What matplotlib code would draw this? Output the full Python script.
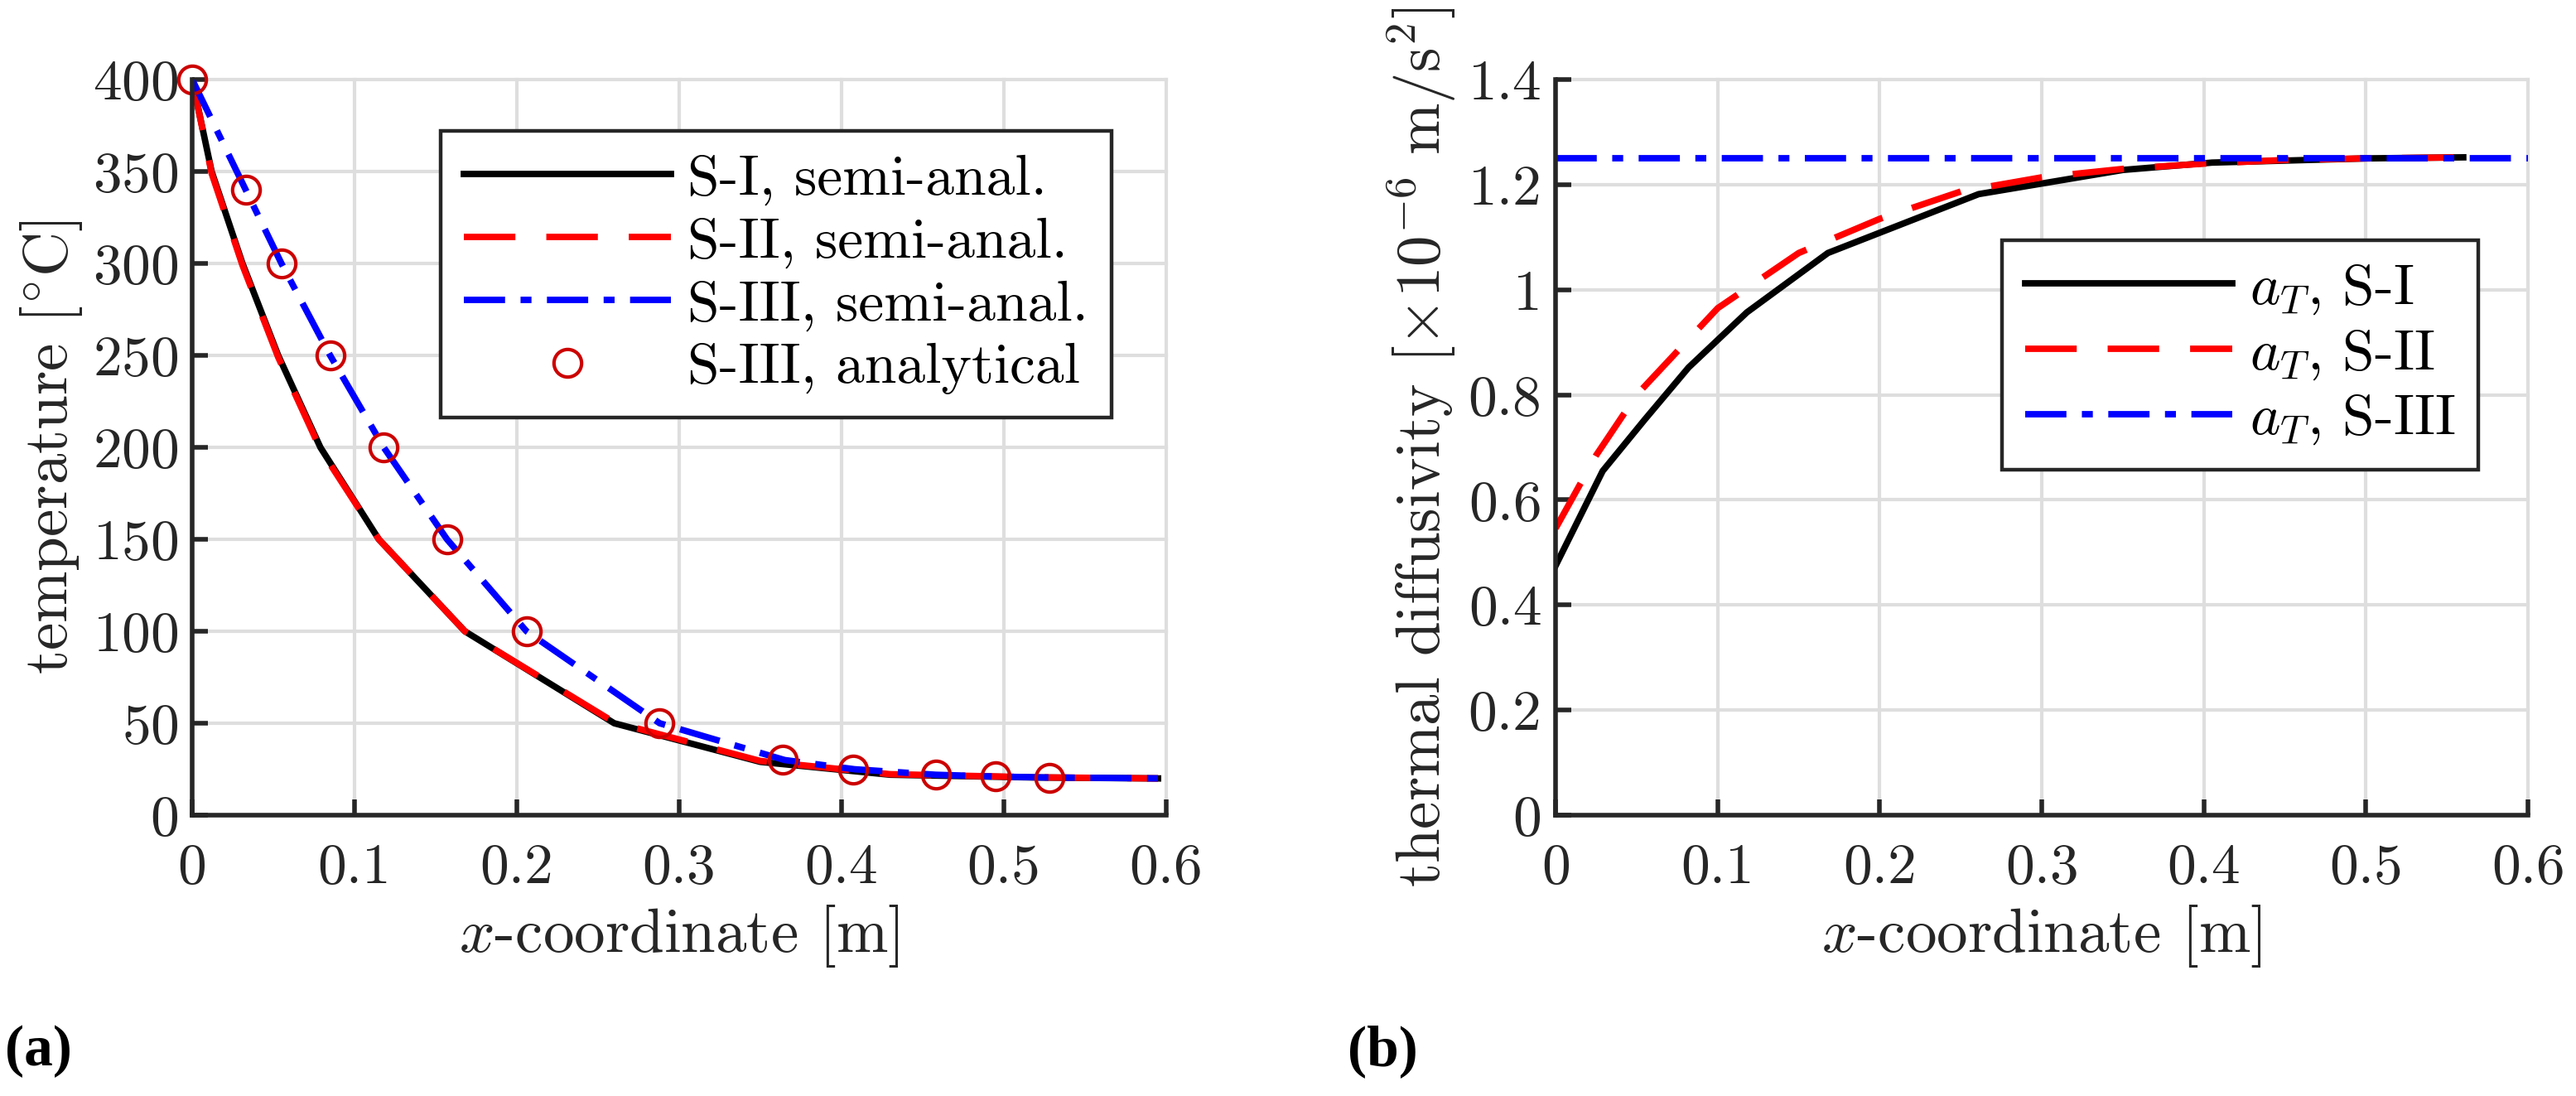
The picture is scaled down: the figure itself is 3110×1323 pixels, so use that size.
import numpy as np
import matplotlib.pyplot as plt

plt.rcParams['font.family'] = 'serif'
plt.rcParams['font.serif'] = ['cmr10']
plt.rcParams['mathtext.fontset'] = 'cm'
plt.rcParams['axes.formatter.use_mathtext'] = True

# (a) temperature
x_s1 = [0, 0.012, 0.031, 0.053, 0.079, 0.115, 0.168, 0.26, 0.35, 0.43, 0.52, 0.595]
T_s1 = [400, 350, 300, 250, 200, 150, 100, 50, 29, 22, 20.5, 20]
x_s2 = [0, 0.012, 0.031, 0.053, 0.079, 0.115, 0.168, 0.26, 0.35, 0.43, 0.52, 0.595]
T_s2 = [400, 349, 299, 249, 199, 150, 100, 50.5, 29.5, 22.3, 20.6, 20]
x_s3 = [0, 0.033, 0.055, 0.085, 0.118, 0.157, 0.206, 0.288, 0.365, 0.408, 0.458, 0.495, 0.528, 0.6]
T_s3 = [400, 340, 300, 250, 200, 150, 100, 50, 30, 25, 22, 21, 20.5, 20]
x_an = [0, 0.033, 0.055, 0.085, 0.118, 0.157, 0.206, 0.288, 0.364, 0.407, 0.458, 0.495, 0.528]
T_an = [400, 340, 300, 250, 200, 150, 100, 50, 30, 25, 22, 21, 20.3]

# (b) thermal diffusivity
x_a1 = [0, 0.029, 0.055, 0.082, 0.118, 0.168, 0.261, 0.35, 0.405, 0.5, 0.56]
a_s1 = [0.475, 0.655, 0.753, 0.852, 0.957, 1.07, 1.182, 1.228, 1.242, 1.25, 1.252]
x_a2 = [0, 0.025, 0.05, 0.1, 0.15, 0.2, 0.25, 0.3, 0.35, 0.4, 0.45, 0.5, 0.56]
a_s2 = [0.546, 0.685, 0.80, 0.965, 1.07, 1.135, 1.187, 1.214, 1.23, 1.24, 1.247, 1.25, 1.252]
x_a3 = [0, 0.6]
a_s3 = [1.25, 1.25]

xticks = [0, 0.1, 0.2, 0.3, 0.4, 0.5, 0.6]
xtick_labels = ['0', '0.1', '0.2', '0.3', '0.4', '0.5', '0.6']
T_ticks = [0, 50, 100, 150, 200, 250, 300, 350, 400]
a_ticks = [0, 0.2, 0.4, 0.6, 0.8, 1.0, 1.2, 1.4]
a_tick_labels = ['0', '0.2', '0.4', '0.6', '0.8', '1', '1.2', '1.4']

dark = '#262626'
lw = 2.8
dash = (8, 4.8)
dashdot = (6.4, 2.4, 1.7, 2.4)

fig = plt.figure(figsize=(15.55, 6.615), dpi=200)
ax1 = fig.add_axes([0.0746, 0.2562, 0.3781, 0.6712])
ax2 = fig.add_axes([0.6039, 0.2562, 0.3775, 0.6712])


def style(ax):
    for s in ['top', 'right']:
        ax.spines[s].set_visible(False)
    for s in ['left', 'bottom']:
        ax.spines[s].set_color(dark)
        ax.spines[s].set_linewidth(2.0)
    ax.grid(True, color='#dedede', linewidth=1.5)
    ax.set_axisbelow(True)
    for gl in ax.get_xgridlines() + ax.get_ygridlines():
        gl.set_clip_on(False)
    ax.tick_params(direction='in', length=7, width=2, colors=dark,
                   labelsize=25, top=False, right=False)
    ax.tick_params(axis='x', pad=12)
    ax.tick_params(axis='y', pad=6)


def legend(ax, anchor):
    leg = ax.legend(loc='upper right', bbox_to_anchor=anchor, fontsize=25,
                    handlelength=3.6, handletextpad=0.3, labelspacing=0.2,
                    borderpad=0.4, borderaxespad=0, fancybox=False,
                    framealpha=1, edgecolor=dark)
    leg.get_frame().set_linewidth(1.6)
    return leg


ax1.plot(x_s1, T_s1, color='black', lw=lw, label='S-I, semi-anal.')
ax1.plot(x_s2, T_s2, color='red', lw=lw, dashes=dash, label='S-II, semi-anal.')
ax1.plot(x_s3, T_s3, color='blue', lw=lw, dashes=dashdot, label='S-III, semi-anal.')
ax1.plot(x_an, T_an, 'o', color='#cc0000', mfc='none', ms=12, mew=1.5,
         clip_on=False, label='S-III, analytical')
ax1.set_xlim(0, 0.6)
ax1.set_ylim(0, 400)
ax1.set_xticks(xticks)
ax1.set_xticklabels(xtick_labels)
ax1.set_yticks(T_ticks)
style(ax1)
ax1.set_xlabel(r'$x$-coordinate [m]', fontsize=27, color=dark, labelpad=4)
ax1.set_ylabel(r'temperature [$^{\circ}$C]', fontsize=27, color=dark, labelpad=3.5)
legend(ax1, (0.944, 0.93))

ax2.plot(x_a1, a_s1, color='black', lw=lw, label=r'$a_T$, S-I')
ax2.plot(x_a2, a_s2, color='red', lw=lw, dashes=dash, label=r'$a_T$, S-II')
ax2.plot(x_a3, a_s3, color='blue', lw=lw, dashes=dashdot, label=r'$a_T$, S-III')
ax2.set_xlim(0, 0.6)
ax2.set_ylim(0, 1.4)
ax2.set_xticks(xticks)
ax2.set_xticklabels(xtick_labels)
ax2.set_yticks(a_ticks)
ax2.set_yticklabels(a_tick_labels)
style(ax2)
ax2.set_xlabel(r'$x$-coordinate [m]', fontsize=27, color=dark, labelpad=4)
ax2.set_ylabel(r'thermal diffusivity $[\times 10^{-6}\ \mathrm{m/s}^2]$',
               fontsize=27, color=dark, labelpad=4.5)
legend(ax2, (0.949, 0.782))

fig.text(0.002, 0.028, '(a)', fontsize=25, fontweight='bold', family='Liberation Serif')
fig.text(0.523, 0.028, '(b)', fontsize=25, fontweight='bold', family='Liberation Serif')

fig.savefig('out.png', dpi=200, facecolor='white')
